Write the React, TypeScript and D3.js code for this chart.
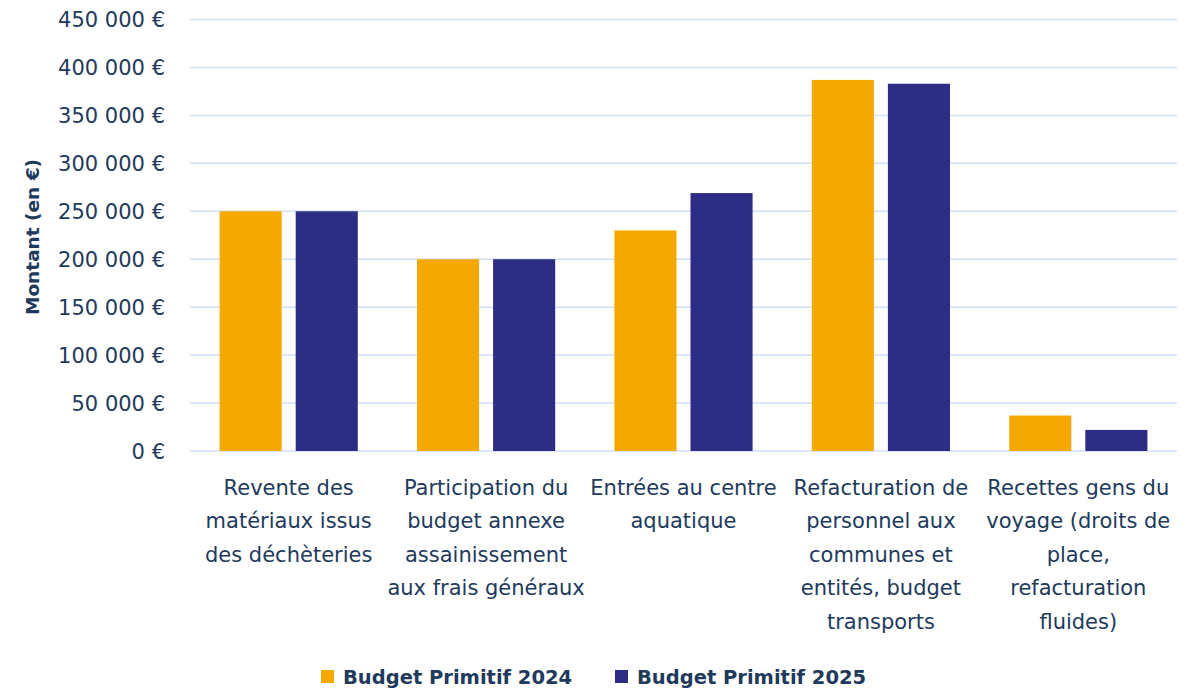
import React from "react";
import * as d3 from "d3";

const categories = [
  "Revente des\nmatériaux issus\ndes déchèteries",
  "Participation du\nbudget annexe\nassainissement\naux frais généraux",
  "Entrées au centre\naquatique",
  "Refacturation de\npersonnel aux\ncommunes et\nentités, budget\ntransports",
  "Recettes gens du\nvoyage (droits de\nplace,\nrefacturation\nfluides)",
];
const seriesNames = ["Budget Primitif 2024", "Budget Primitif 2025"];
const values2024 = [250000, 200000, 230000, 387000, 37000];
const values2025 = [250000, 200000, 269000, 383000, 22000];
const yTicks = [0, 50000, 100000, 150000, 200000, 250000, 300000, 350000, 400000, 450000];
const colors = ["#F5A800", "#2E2D86"];

const W = 1191;
const H = 693;
const FONT = "'DejaVu Sans', sans-serif";
const TEXT = "#213A5C";

export default function App() {
  const y = d3.scaleLinear().domain([0, 450000]).range([451, 19.5]);
  const x0 = d3
    .scaleBand<string>()
    .domain(categories)
    .range([190, 1177])
    .paddingInner(0.3)
    .paddingOuter(0.15);
  const x1 = d3
    .scaleBand<string>()
    .domain(seriesNames)
    .range([0, x0.bandwidth()])
    .paddingInner(0.184);
  const fmt = (v: number) => d3.format(",")(v).replace(/,/g, " ") + " €";
  const data = [values2024, values2025];
  const step = x0.step();
  const left = 190;

  return (
    <svg width={W} height={H} style={{ position: "absolute", left: 0, top: 0, background: "#fff" }}>
      {yTicks.map((t) => (
        <g key={t}>
          <line x1={left} x2={1177} y1={y(t)} y2={y(t)} stroke="#D1E0F6" strokeWidth={1.5} />
          <text
            x={165}
            y={y(t)}
            dy="0.36em"
            textAnchor="end"
            fontFamily={FONT}
            fontSize={21}
            fill={TEXT}
          >
            {fmt(t)}
          </text>
        </g>
      ))}
      {categories.map((c, i) => (
        <g key={c} transform={`translate(${x0(c)},0)`}>
          {seriesNames.map((s, j) => (
            <rect
              key={s}
              x={x1(s)}
              y={y(data[j][i])}
              width={x1.bandwidth()}
              height={y(0) - y(data[j][i])}
              fill={colors[j]}
            />
          ))}
        </g>
      ))}
      {categories.map((c, i) => {
        const cx = left + step * (i + 0.5);
        return (
          <text key={c} textAnchor="middle" fontFamily={FONT} fontSize={21} fill={TEXT}>
            {c.split("\n").map((line, k) => (
              <tspan key={k} x={cx} y={495 + k * 33.4}>
                {line}
              </tspan>
            ))}
          </text>
        );
      })}
      <text
        transform={`translate(39,237) rotate(-90)`}
        textAnchor="middle"
        fontFamily={FONT}
        fontWeight="bold"
        fontSize={18.5}
        fill={TEXT}
      >
        Montant (en €)
      </text>
      {seriesNames.map((s, j) => {
        const lx = [321, 615][j];
        return (
          <g key={s}>
            <rect x={lx} y={670} width={13} height={13} fill={colors[j]} />
            <text x={lx + 22} y={684} fontFamily={FONT} fontWeight="bold" fontSize={19.5} fill={TEXT}>
              {s}
            </text>
          </g>
        );
      })}
    </svg>
  );
}
